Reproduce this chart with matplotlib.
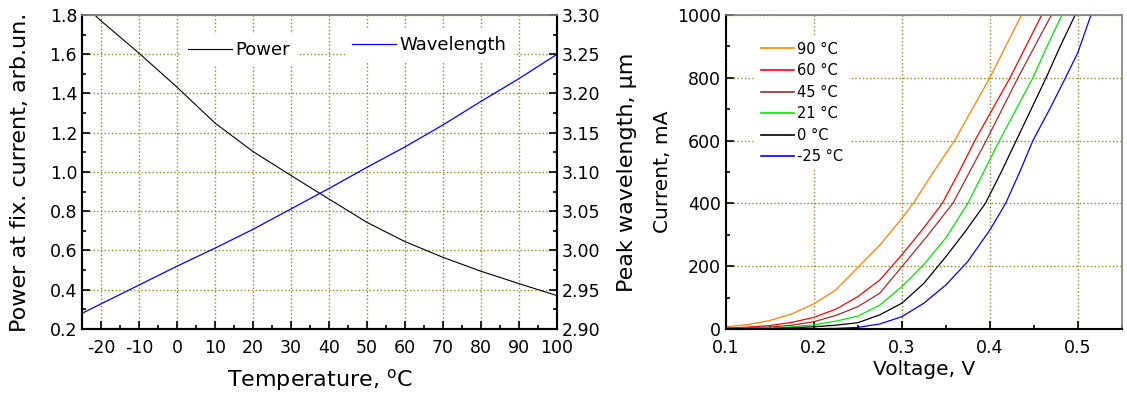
import matplotlib
matplotlib.use('Agg')
import matplotlib.pyplot as plt
from matplotlib.ticker import MultipleLocator

plt.rcParams['font.family'] = 'DejaVu Sans'
plt.rcParams['axes.unicode_minus'] = False

# left panel: power and peak wavelength vs temperature
temp_power = [-25, -20, -10, 0, 10, 20, 30, 40, 50, 60, 70, 80, 90, 100]
power = [1.86, 1.77, 1.605, 1.432, 1.249, 1.104, 0.982, 0.862, 0.743, 0.645,
         0.565, 0.494, 0.431, 0.37]
temp_wl = [-25, -20, -10, 0, 10, 20, 30, 40, 50, 60, 70, 80, 90, 100]
wavelength = [2.920, 2.932, 2.956, 2.980, 3.003, 3.027, 3.053, 3.079, 3.106,
              3.132, 3.160, 3.190, 3.219, 3.250]

# right panel: I-V curves at several temperatures
iv_labels = ['90 °C', '60 °C', '45 °C', '21 °C', '0 °C', '-25 °C']
iv_colors = ['#ff8000', '#ff0000', '#a52a2a', '#00e600', '#000000', '#0000ff']
v_90 = [0.10, 0.125, 0.15, 0.175, 0.20, 0.225, 0.25, 0.275, 0.30, 0.313, 0.336,
        0.36, 0.38, 0.40, 0.418, 0.436]
i_90 = [7, 14, 27, 48, 80, 124, 196, 267, 352, 400, 500, 600, 700, 800, 900, 1000]
v_60 = [0.10, 0.125, 0.15, 0.175, 0.20, 0.225, 0.25, 0.275, 0.30, 0.323, 0.346,
        0.365, 0.383, 0.403, 0.423, 0.441, 0.459]
i_60 = [3, 6, 11, 21, 37, 63, 103, 156, 236, 315, 400, 500, 600, 700, 800, 900, 1000]
v_45 = [0.10, 0.15, 0.175, 0.20, 0.225, 0.25, 0.275, 0.30, 0.33, 0.358, 0.377,
        0.396, 0.414, 0.432, 0.451, 0.470]
i_45 = [2, 6, 12, 23, 43, 71, 114, 198, 300, 400, 500, 600, 700, 800, 900, 1000]
v_21 = [0.10, 0.15, 0.175, 0.20, 0.225, 0.25, 0.275, 0.30, 0.325, 0.35, 0.375,
        0.393, 0.411, 0.43, 0.449, 0.465, 0.482]
i_21 = [1, 3, 7, 13, 25, 41, 76, 135, 205, 290, 400, 500, 600, 700, 800, 900, 1000]
v_0 = [0.10, 0.15, 0.20, 0.225, 0.25, 0.275, 0.30, 0.325, 0.35, 0.372, 0.395,
       0.413, 0.43, 0.447, 0.464, 0.48, 0.497]
i_0 = [0, 1, 7, 12, 20, 45, 82, 145, 230, 310, 400, 500, 600, 700, 800, 900, 1000]
v_m25 = [0.15, 0.20, 0.225, 0.25, 0.275, 0.30, 0.325, 0.35, 0.375, 0.40, 0.418,
         0.434, 0.449, 0.468, 0.486, 0.50, 0.515]
i_m25 = [0, 1, 2, 5, 16, 39, 82, 140, 215, 315, 400, 500, 600, 700, 800, 880, 1000]
iv_v = [v_90, v_60, v_45, v_21, v_0, v_m25]
iv_i = [i_90, i_60, i_45, i_21, i_0, i_m25]

grid_kw = dict(color='#8c8c1a', linestyle=':', linewidth=1.0)


def style_axis(a, gray_spines):
    for s in a.spines.values():
        s.set_linewidth(1.5)
    for s in gray_spines:
        a.spines[s].set_color('0.5')
        a.spines[s].set_linewidth(1.2)
    a.tick_params(which='major', direction='in', length=6, width=1.2, labelsize=12.5)
    a.tick_params(which='minor', direction='in', length=3, width=1.2)
    a.tick_params(axis='x', which='major', pad=7)


fig = plt.figure(figsize=(11.27, 3.94), dpi=100)

# ---- left panel
ax = fig.add_axes([0.0728, 0.165, 0.4215, 0.797])
ax2 = ax.twinx()
ln_p, = ax.plot(temp_power, power, color='black', lw=0.8, label='Power')
ln_w, = ax2.plot(temp_wl, wavelength, color='#0000ff', lw=0.9, label='Wavelength')
ax.set_xlim(-25, 100)
ax.set_ylim(0.2, 1.8)
ax2.set_ylim(2.90, 3.30)
ax.xaxis.set_major_locator(MultipleLocator(10))
ax.xaxis.set_minor_locator(MultipleLocator(5))
ax.yaxis.set_major_locator(MultipleLocator(0.2))
ax.yaxis.set_minor_locator(MultipleLocator(0.1))
ax2.yaxis.set_major_locator(MultipleLocator(0.05))
ax2.yaxis.set_minor_locator(MultipleLocator(0.025))
ax.yaxis.set_major_formatter(plt.FormatStrFormatter('%.1f'))
ax2.yaxis.set_major_formatter(plt.FormatStrFormatter('%.2f'))
ax.grid(True, which='major', **grid_kw)
ax.set_axisbelow(True)
style_axis(ax, ['top'])
style_axis(ax2, ['top'])
ax.set_xlabel('Temperature, $^\\mathrm{o}$C', fontsize=16)
ax.set_ylabel('Power at fix. current, arb.un.', fontsize=16)
ax2.set_ylabel('Peak wavelength, µm', fontsize=16)
ax.xaxis.set_label_coords(0.5, -0.121)
ax.yaxis.set_label_coords(-0.109, 0.5)
ax2.yaxis.set_label_coords(1.126, 0.5)

leg_kw = dict(fontsize=13, handlelength=2.45, handletextpad=0.2, frameon=True,
              framealpha=1, edgecolor='none', fancybox=False, borderaxespad=0)
ax.legend(handles=[ln_p], loc='center left', bbox_to_anchor=(0.207, 0.889), **leg_kw)
ax2.legend(handles=[ln_w], loc='center left', bbox_to_anchor=(0.553, 0.904), **leg_kw)

# ---- right panel
bx = fig.add_axes([0.644, 0.165, 0.3514, 0.797])
for v, i, lab, col in zip(iv_v, iv_i, iv_labels, iv_colors):
    bx.plot(v, i, color=col, lw=0.9, label=lab)
bx.set_xlim(0.1, 0.55)
bx.set_ylim(0, 1000)
bx.xaxis.set_major_locator(MultipleLocator(0.1))
bx.xaxis.set_minor_locator(MultipleLocator(0.05))
bx.yaxis.set_major_locator(MultipleLocator(200))
bx.yaxis.set_minor_locator(MultipleLocator(100))
bx.xaxis.set_major_formatter(plt.FormatStrFormatter('%.1f'))
bx.grid(True, which='major', **grid_kw)
bx.set_axisbelow(True)
style_axis(bx, ['top', 'right'])
bx.set_xlabel('Voltage, V', fontsize=14.5)
bx.set_ylabel('Current, mA', fontsize=14.5)
bx.xaxis.set_label_coords(0.5, -0.099)
bx.yaxis.set_label_coords(-0.136, 0.5)
leg = bx.legend(loc='upper left', bbox_to_anchor=(0.073, 0.934), fontsize=10.5,
                handlelength=2.3, handletextpad=0.2, labelspacing=0.45,
                frameon=True, framealpha=1, edgecolor='none', fancybox=False,
                borderaxespad=0)
for h in leg.get_lines():
    h.set_linewidth(1.2)

fig.savefig('out.png', dpi=100)
